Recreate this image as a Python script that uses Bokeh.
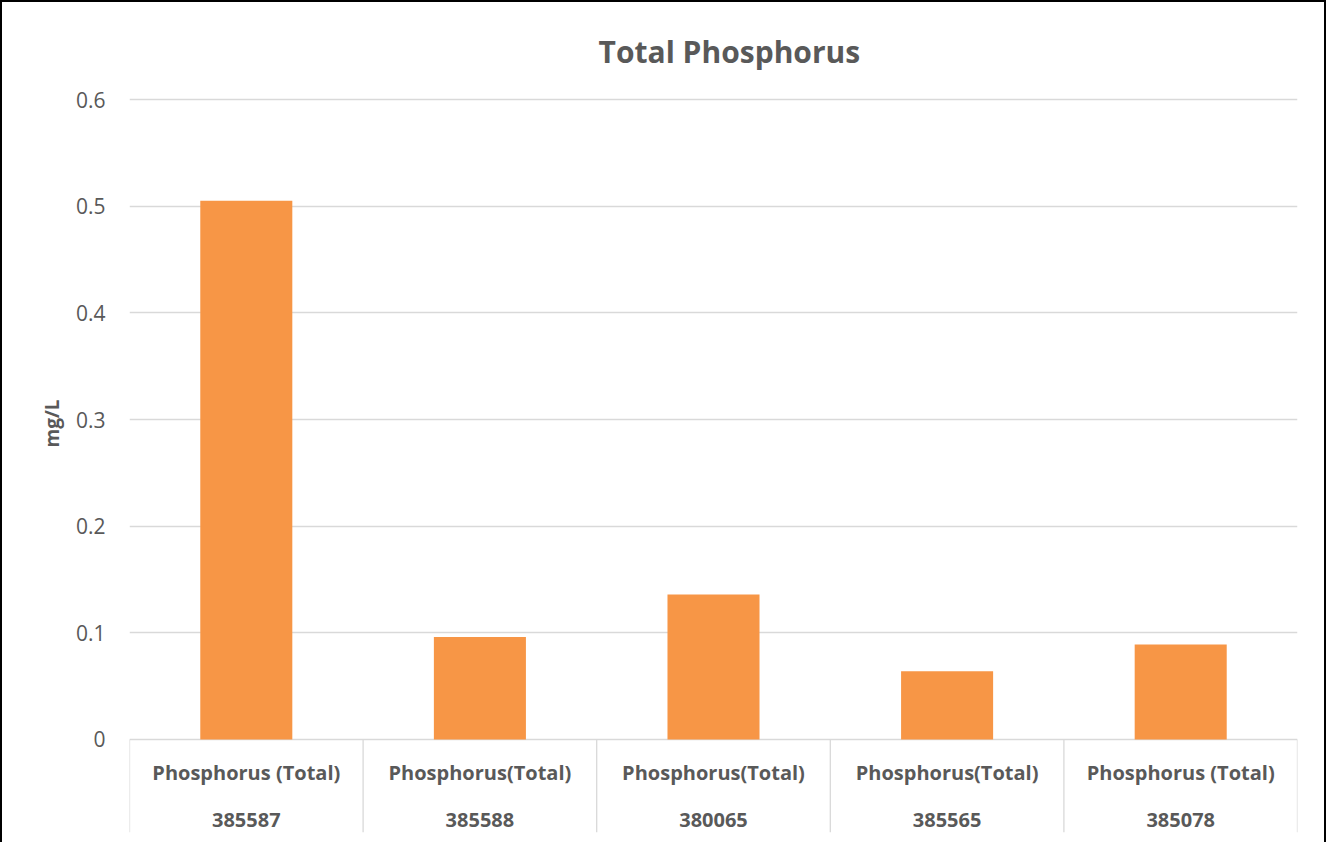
import numpy as np
from bokeh.plotting import figure
from bokeh.models import Range1d, FixedTicker, ColumnDataSource
from bokeh.core.properties import value
from bokeh.embed import file_html
from bokeh.resources import INLINE

# ---- data ----
labels = ["Phosphorus (Total)", "Phosphorus(Total)", "Phosphorus(Total)",
          "Phosphorus(Total)", "Phosphorus (Total)"]
site_ids = ["385587", "385588", "380065", "385565", "385078"]
values = [0.505, 0.096, 0.136, 0.064, 0.089]
y_ticks = [0, 0.1, 0.2, 0.3, 0.4, 0.5, 0.6]
title_text = "Total Phosphorus"
y_title = "mg/L"

n = len(values)
centers = np.arange(n) + 0.5

FONT = "Open Sans"
GREY = "#595959"
LINE = "#d9d9d9"

p = figure(width=1326, height=842, output_backend="svg", toolbar_location=None,
           x_range=Range1d(0, n), y_range=Range1d(-0.0872, 0.6797),
           min_border_left=127, min_border_right=31, min_border_top=12,
           min_border_bottom=12)
p.styles = {"border-left": "2px solid black", "border-top": "2px solid black",
            "border-right": "2px solid black", "box-sizing": "border-box"}
p.outline_line_color = None
p.xaxis.visible = False
p.xgrid.visible = False

p.yaxis.ticker = FixedTicker(ticks=y_ticks)
p.ygrid.ticker = FixedTicker(ticks=y_ticks)
p.ygrid.grid_line_color = LINE
p.ygrid.grid_line_width = 1.3
p.yaxis.axis_line_color = None
p.yaxis.major_tick_line_color = None
p.yaxis.minor_tick_line_color = None
p.yaxis.major_label_standoff = 18
p.yaxis.major_label_text_font = FONT
p.yaxis.major_label_text_font_size = "21px"
p.yaxis.major_label_text_color = GREY
p.yaxis.axis_label = y_title
p.yaxis.axis_label_text_font = FONT
p.yaxis.axis_label_text_font_size = "19px"
p.yaxis.axis_label_text_font_style = "bold"
p.yaxis.axis_label_text_color = GREY
p.yaxis.axis_label_standoff = 8

src = ColumnDataSource(dict(x=centers, top=values, label=labels, site=site_ids))
p.vbar(x="x", top="top", bottom=0, width=0.394, source=src,
       fill_color="#F79646", line_color=None)

# category separators
bounds = np.arange(n + 1)
p.segment(x0=bounds, y0=0, x1=bounds, y1=-0.0872, line_color=LINE, line_width=1.3)

p.text(x="x", y=0, text="label", source=src, y_offset=33,
       text_font=value(FONT), text_font_size="20px", text_font_style="bold",
       text_color=GREY, text_align="center", text_baseline="middle")
p.text(x="x", y=0, text="site", source=src, y_offset=81,
       text_font=value(FONT), text_font_size="20px", text_font_style="bold",
       text_color=GREY, text_align="center", text_baseline="middle")

p.text(x=[2.568], y=[0.645], text=[title_text], text_font=value(FONT),
       text_font_size="30px", text_font_style="bold", text_color=GREY,
       text_align="center", text_baseline="middle")

open("out.html", "w").write(file_html(p, INLINE))
